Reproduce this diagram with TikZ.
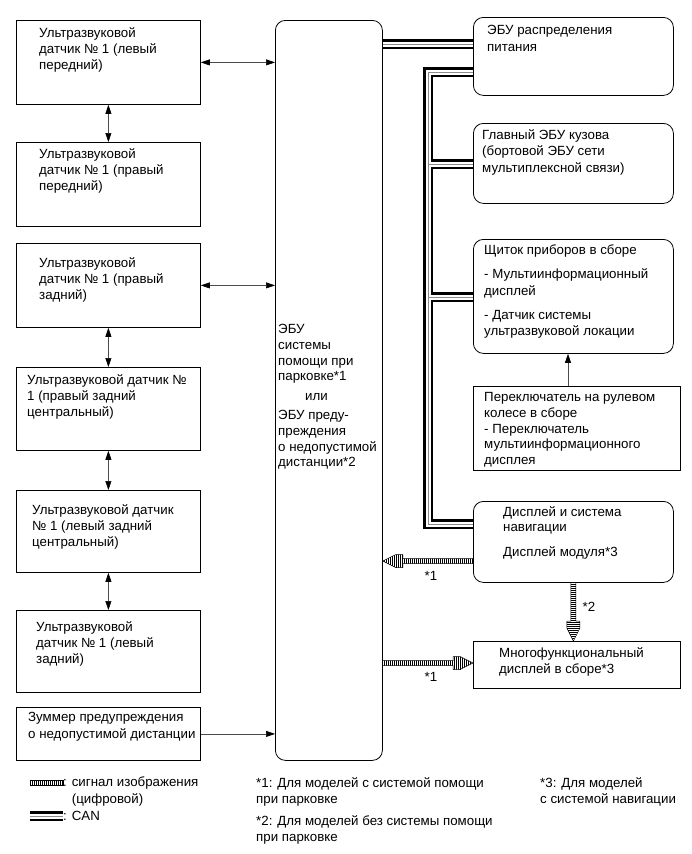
\documentclass[tikz,border=0pt]{standalone}
\usepackage{fontspec}
\setmainfont{Liberation Sans}
\usetikzlibrary{arrows.meta,calc,patterns.meta}
\newcommand\capht{\rule{0pt}{9.6pt}}
\newcommand\canlayers[1]{%
  \draw[line width=10pt,black,line join=miter] #1;
  \draw[line width=5pt,white,line join=miter] #1;
  \draw[line width=0.9pt,black!45,line join=miter] #1;}
\begin{document}
\begin{tikzpicture}[x=1pt,y=-1pt,
  sqbox/.style={draw,line width=0.8pt,rectangle,anchor=north west,inner sep=0pt},
  rbox/.style={sqbox,rounded corners=10pt},
  txt/.style={font=\fontsize{13.3}{16.2}\selectfont,align=left,inner sep=0pt,anchor=north west},
  lbl/.style={font=\fontsize{13.3}{16.2}\selectfont,inner sep=0pt},
  mytip/.tip={Triangle[length=9pt,width=6pt,color=black]},
  link/.style={draw=black!70,line width=0.6pt},
  arrboth/.style={link,mytip-mytip},
  arrone/.style={link,-mytip},
  hatchh/.style={draw=black,line width=0.5pt,pattern={Lines[angle=90,distance=2pt,line width=0.8pt]}},
  hatchv/.style={draw=black,line width=0.5pt,pattern={Lines[angle=0,distance=2pt,line width=0.8pt]}},
]
\useasboundingbox (0,0) rectangle (691,854);

% left sensor boxes
\node[sqbox,minimum width=184pt,minimum height=84pt] (s1) at (16,20) {};
\node[sqbox,minimum width=184pt,minimum height=84pt] (s2) at (16,142) {};
\node[sqbox,minimum width=184pt,minimum height=84pt] (s3) at (16,243) {};
\node[sqbox,minimum width=184pt,minimum height=83pt] (s4) at (16,367) {};
\node[sqbox,minimum width=184pt,minimum height=82pt] (s5) at (16,490) {};
\node[sqbox,minimum width=184pt,minimum height=82pt] (s6) at (16,610) {};
\node[sqbox,minimum width=184pt,minimum height=53pt] (s7) at (16,707) {};

\node[txt] (t1) at (39,27) {\capht Ультразвуковой\\датчик № 1 (левый\\передний)};
\node[txt] (t2) at (39,148) {\capht Ультразвуковой\\датчик № 1 (правый\\передний)};
\node[txt] (t3) at (39,257) {\capht Ультразвуковой\\датчик № 1 (правый\\задний)};
\node[txt] (t4) at (27,374) {\capht Ультразвуковой датчик №\\1 (правый задний\\центральный)};
\node[txt] (t5) at (32,504) {\capht Ультразвуковой датчик\\№ 1 (левый задний\\центральный)};
\node[txt] (t6) at (36,621) {\capht Ультразвуковой\\датчик № 1 (левый\\задний)};
\node[txt] (t7) at (28,712) {\capht Зуммер предупреждения\\о недопустимой дистанции};

% central ECU
\node[rbox,minimum width=107pt,minimum height=740pt] (ecu) at (275,20) {};
\node[txt,font=\fontsize{13.3}{15.6}\selectfont] (tecu) at (278,324) {\capht ЭБУ\\системы\\помощи при\\парковке*1\\[4pt]\hspace*{27pt}или\\[4pt]ЭБУ преду-\\преждения\\о недопустимой\\дистанции*2};

% right boxes
\node[rbox,minimum width=200pt,minimum height=78pt] (pwr) at (473,17) {};
\node[rbox,minimum width=200pt,minimum height=80pt] (body) at (473,123) {};
\node[rbox,minimum width=200pt,minimum height=114pt] (meter) at (473,239) {};
\node[sqbox,minimum width=207pt,minimum height=84pt] (sw) at (473,386) {};
\node[rbox,minimum width=200pt,minimum height=81pt] (nav) at (473,501) {};
\node[sqbox,minimum width=207pt,minimum height=47pt] (multi) at (473,641) {};

\node[txt] (tpwr) at (487,25) {\capht ЭБУ распределения\\питания};
\node[txt,font=\fontsize{13.3}{16.7}\selectfont] (tbody) at (482,129) {\capht Главный ЭБУ кузова\\(бортовой ЭБУ сети\\мультиплексной связи)};
\node[txt,font=\fontsize{13.3}{16.7}\selectfont] (tmeter) at (484,245) {\capht Щиток приборов в сборе\\[7pt]- Мультиинформационный\\дисплей\\[7pt]- Датчик системы\\ультразвуковой локации};
\node[txt,font=\fontsize{13.3}{15.7}\selectfont] (tsw) at (484,392) {\capht Переключатель на рулевом\\колесе в сборе\\- Переключатель\\мультиинформационного\\дисплея};
\node[txt,font=\fontsize{13.3}{15.5}\selectfont] (tnav) at (503,506) {\capht Дисплей и система\\навигации\\[9pt]Дисплей модуля*3};
\node[txt] (tmulti) at (499,647) {\capht Многофункциональный\\дисплей в сборе*3};

% signal arrows
\draw[arrboth] (s1.east) -- (ecu.west |- s1.east);
\draw[arrboth] (s3.east) -- (ecu.west |- s3.east);
\draw[arrone] (s7.east) -- (ecu.west |- s7.east);
\draw[arrboth] (s1.south) -- (s2.north);
\draw[arrboth] (s3.south) -- (s4.north);
\draw[arrboth] (s4.south) -- (s5.north);
\draw[arrboth] (s5.south) -- (s6.north);
\draw[arrone] (sw.north -| 568,0) -- (meter.south -| 568,0);

% CAN lines
\canlayers{(ecu.east |- 0,44) -- (pwr.west |- 0,44)}
\canlayers{(pwr.west |- 0,72) -- (428,72) -- (428,524) -- (nav.west |- 0,524) (428,164) -- (body.west |- 0,164) (428,297) -- (meter.west |- 0,297)}

% image signal arrows
\coordinate (a1s) at (nav.west |- 0,561);
\coordinate (a1t) at (ecu.east |- 0,561);
\draw[hatchh] ($(a1s)+(0,-2.5)$) -- ($(a1t)+(20,-2.5)$) -- ($(a1t)+(20,-6.5)$) -- ($(a1t)+(13,-6.5)$) -- (a1t) -- ($(a1t)+(13,6.5)$) -- ($(a1t)+(20,6.5)$) -- ($(a1t)+(20,2.5)$) -- ($(a1s)+(0,2.5)$);
\draw[line width=0.5pt] ($(a1t)+(13,-6.5)$) -- ($(a1t)+(13,6.5)$);

\coordinate (a2s) at (ecu.east |- 0,663);
\coordinate (a2t) at (multi.west |- 0,663);
\draw[hatchh] ($(a2s)+(0,-2.5)$) -- ($(a2t)+(-20,-2.5)$) -- ($(a2t)+(-20,-6.5)$) -- ($(a2t)+(-13,-6.5)$) -- (a2t) -- ($(a2t)+(-13,6.5)$) -- ($(a2t)+(-20,6.5)$) -- ($(a2t)+(-20,2.5)$) -- ($(a2s)+(0,2.5)$);
\draw[line width=0.5pt] ($(a2t)+(-13,-6.5)$) -- ($(a2t)+(-13,6.5)$);

\coordinate (a3s) at (nav.south);
\coordinate (a3t) at (nav.south |- multi.north);
\draw[hatchv] ($(a3s)+(-2.5,0)$) -- ($(a3t)+(-2.5,-20)$) -- ($(a3t)+(-6.5,-20)$) -- ($(a3t)+(-6.5,-13)$) -- (a3t) -- ($(a3t)+(6.5,-13)$) -- ($(a3t)+(6.5,-20)$) -- ($(a3t)+(2.5,-20)$) -- ($(a3s)+(2.5,0)$);
\draw[line width=0.5pt] ($(a3t)+(-6.5,-13)$) -- ($(a3t)+(6.5,-13)$);

\node[lbl] (l1) at (431,576) {*1};
\node[lbl] (l2) at (431,677) {*1};
\node[lbl] (l3) at (589,607) {*2};

% legend
\draw[hatchh] (30,780.5) rectangle (63,785.5);
\node[txt] (lg1) at (63,777) {\capht: сигнал изображения\\\phantom{: }(цифровой)};
\canlayers{(30,816) -- (63,816)}
\node[txt] (lg2) at (63,811) {\capht: CAN};

\node[txt] (n1) at (256,777) {\capht*1: Для моделей с системой помощи\\при парковке};
\node[txt] (n2) at (256,815) {\capht*2: Для моделей без системы помощи\\при парковке};
\node[txt] (n3) at (540,777) {\capht*3: Для моделей\\с системой навигации};
\end{tikzpicture}
\end{document}
